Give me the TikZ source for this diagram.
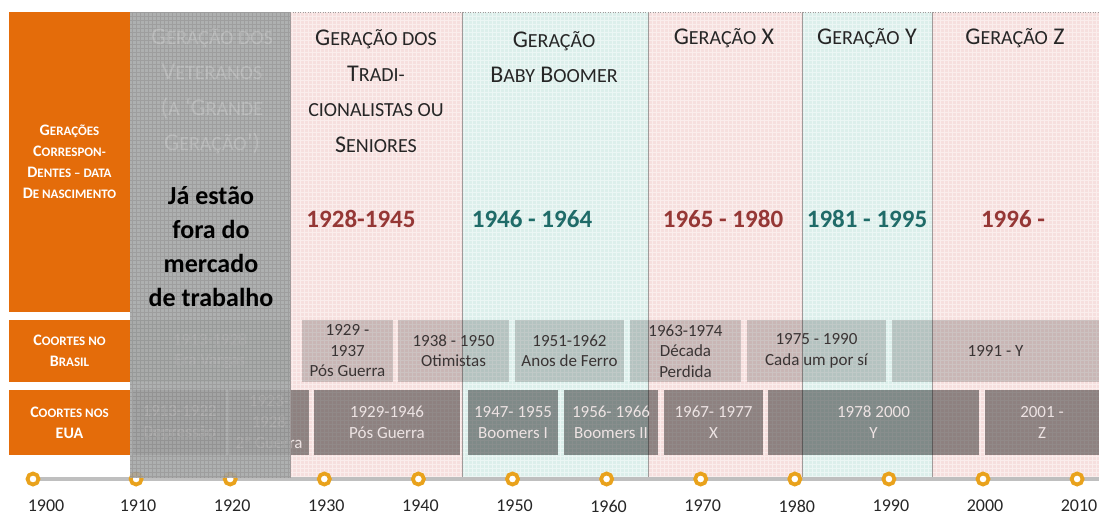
\documentclass[tikz,border=0pt]{standalone}
\usepackage{fontspec}
\setmainfont{Carlito}
\usetikzlibrary{positioning}

\definecolor{orghdr}{HTML}{E46C0A}
\definecolor{pinkcol}{HTML}{F6DFDE}
\definecolor{tealcol}{HTML}{DCEFEB}
\definecolor{veilgray}{HTML}{A8A8A8}
\definecolor{hdrtext}{HTML}{262626}
\definecolor{yrred}{HTML}{953735}
\definecolor{yrteal}{HTML}{1F6B68}
\definecolor{brtext}{HTML}{3A3434}
\definecolor{ustext}{HTML}{EDE3E3}
\definecolor{ringorg}{HTML}{E9A21C}
\definecolor{tlgray}{HTML}{BFBFBF}
\definecolor{colrule}{HTML}{A09A9A}

\newcommand\hsc[1]{{\fontsize{20}{35.5}\selectfont #1}}
\newcommand\osc[1]{{\fontsize{13}{21}\selectfont #1}}

\begin{document}
\begin{tikzpicture}[x=1pt,y=-1pt,
    hdr/.style={align=center, text=hdrtext, inner sep=0pt, font=\fontsize{24}{35.5}\selectfont},
    yrr/.style={text=yrred, inner sep=0pt, font=\bfseries\fontsize{25}{28}\selectfont},
    yrt/.style={text=yrteal, inner sep=0pt, font=\bfseries\fontsize{25}{28}\selectfont},
    orgbox/.style={fill=orghdr, text=white, align=center, inner sep=0pt, minimum width=121, font=\bfseries\fontsize{16}{21}\selectfont},
    brbox/.style={fill=black, fill opacity=0.18, text opacity=1, text=brtext, align=center, inner sep=0pt, minimum height=62, font=\fontsize{17}{20.5}\selectfont},
    usbox/.style={fill=black, fill opacity=0.42, text opacity=1, text=ustext, align=center, inner sep=0pt, minimum height=65, font=\fontsize{17}{21}\selectfont},
    ring/.style={circle, draw=ringorg, line width=3.8, fill=white, minimum size=11, inner sep=0pt},
    tick/.style={text=hdrtext, inner sep=0pt, font=\fontsize{18}{20}\selectfont}
  ]
  \useasboundingbox (0,0) rectangle (1099,516);

  % Columns
  \fill[tealcol] (130,12) rectangle (290,478);
  \fill[pinkcol] (290,12) rectangle (462,478);
  \fill[tealcol] (462,12) rectangle (648,478);
  \fill[pinkcol] (648,12) rectangle (802,478);
  \fill[tealcol] (802,12) rectangle (932,478);
  \fill[pinkcol] (932,12) rectangle (1099,478);
  \begin{scope}[y=1pt]
    \draw[white, line width=0.5, opacity=0.45, step=4] (130,-478) grid (1099,-12);
  \end{scope}
  \foreach \cx in {462,648,802,932}
    \draw[colrule, line width=0.7] (\cx,12) -- (\cx,478);
  \draw[colrule, line width=0.5, dotted] (290,12) -- (1099,12);

  % Generations
  \node[hdr] (htrad) at (376,91) {G\hsc{ERAÇÃO DOS}\\T\hsc{RADI-}\\\hsc{CIONALISTAS OU}\\S\hsc{ENIORES}};
  \node[hdr] (hboom) at (554,57) {G\hsc{ERAÇÃO}\\B\hsc{ABY} B\hsc{OOMER}};
  \node[hdr] (hgenx) at (724,38) {G\hsc{ERAÇÃO} X};
  \node[hdr] (hgeny) at (867,38) {G\hsc{ERAÇÃO} Y};
  \node[hdr] (hgenz) at (1015,38) {G\hsc{ERAÇÃO} Z};

  \node[yrr] (ytrad) at (361,219) {1928-1945};
  \node[yrt] (yboom) at (532,219) {1946 - 1964};
  \node[yrr] (ygenx) at (723,219) {1965 - 1980};
  \node[yrt] (ygeny) at (867,219) {1981 - 1995};
  \node[yrr] (ygenz) at (1013,219) {1996 -};

  % Coortes no Brasil
  \node[brbox, minimum width=160, text=white] (brvargas) at (210,351) {1913-1928\\Era Vargas};
  \node[brbox, minimum width=91] (br1929) at (347.5,351) {1929 -\\1937\\Pós Guerra};
  \node[brbox, minimum width=111] (br1938) at (453.5,351) {1938 - 1950\\Otimistas};
  \node[brbox, minimum width=109] (br1951) at (569.5,351) {1951-1962\\Anos de Ferro};
  \node[brbox, minimum width=111] (br1963) at (685.5,351) {1963-1974\\Década\\Perdida};
  \node[brbox, minimum width=139] (br1975) at (816.5,351) {1975 - 1990\\Cada um por sí};
  \node[brbox, minimum width=207] (br1991) at (995.5,351) {1991 - Y};

  % Coortes nos EUA
  \node[usbox, minimum width=93] (us1913) at (179.5,422.5) {1913-1922\\Depressão};
  \node[usbox, minimum width=80] (us1923) at (269,422.5) {1923-\\1928\\2ª Guerra};
  \node[usbox, minimum width=146] (us1929) at (387,422.5) {1929-1946\\Pós Guerra};
  \node[usbox, minimum width=90] (us1947) at (513,422.5) {1947- 1955\\Boomers I};
  \node[usbox, minimum width=94] (us1956) at (611,422.5) {1956- 1966\\Boomers II};
  \node[usbox, minimum width=99] (us1967) at (713.5,422.5) {1967- 1977\\X};
  \node[usbox, minimum width=211] (us1978) at (873.5,422.5) {1978 2000\\Y};
  \node[usbox, minimum width=114] (us2001) at (1042,422.5) {2001 -\\Z};

  % Timeline
  \coordinate (tlstart) at (33,479);
  \coordinate (tlend) at (1099,479);
  \draw[tlgray, line width=4] (tlstart) -- (tlend);
  \foreach \yr [count=\i from 0] in {1900,1910,...,2010} {
    \pgfmathsetmacro\rx{\i==0 ? 33 : 42+94.1*\i}
    \pgfmathsetmacro\lx{\i==0 ? 46 : 44+94.1*\i}
    \node[ring] (r\yr) at (\rx,479) {};
    \node[tick] (l\yr) at (\lx,506) {\yr};
  }

  % Veil over the first generation
  \fill[veilgray, opacity=0.88] (130,12) rectangle (290,478);
  \begin{scope}[y=1pt]
    \draw[black, line width=0.3, opacity=0.1, step=4] (130,-478) grid (290,-12);
  \end{scope}
  \draw[colrule, line width=0.7] (290,12) -- (290,478);
  \node[hdr, text=white, opacity=0.2] (hvet) at (212,91) {G\hsc{ERAÇÃO DOS}\\V\hsc{ETERANOS}\\(\hsc{A} `G\hsc{RANDE}\\G\hsc{ERAÇÃO}')};
  \node[align=center, inner sep=0pt, font=\bfseries\fontsize{26}{34}\selectfont] (fora) at (211,247)
    {Já estão\\fora do\\mercado\\de trabalho};

  % Row headers
  \node[orgbox, minimum height=300] (hgen) at (69.5,162)
    {G\osc{ERAÇÕES}\\C\osc{ORRESPON-}\\D\osc{ENTES -- DATA}\\D\osc{E NASCIMENTO}};
  \node[orgbox, minimum height=62] (hbr) at (69.5,351) {C\osc{OORTES NO}\\B\osc{RASIL}};
  \node[orgbox, minimum height=65] (hus) at (69.5,422.5) {C\osc{OORTES NOS}\\EUA};
\end{tikzpicture}
\end{document}
